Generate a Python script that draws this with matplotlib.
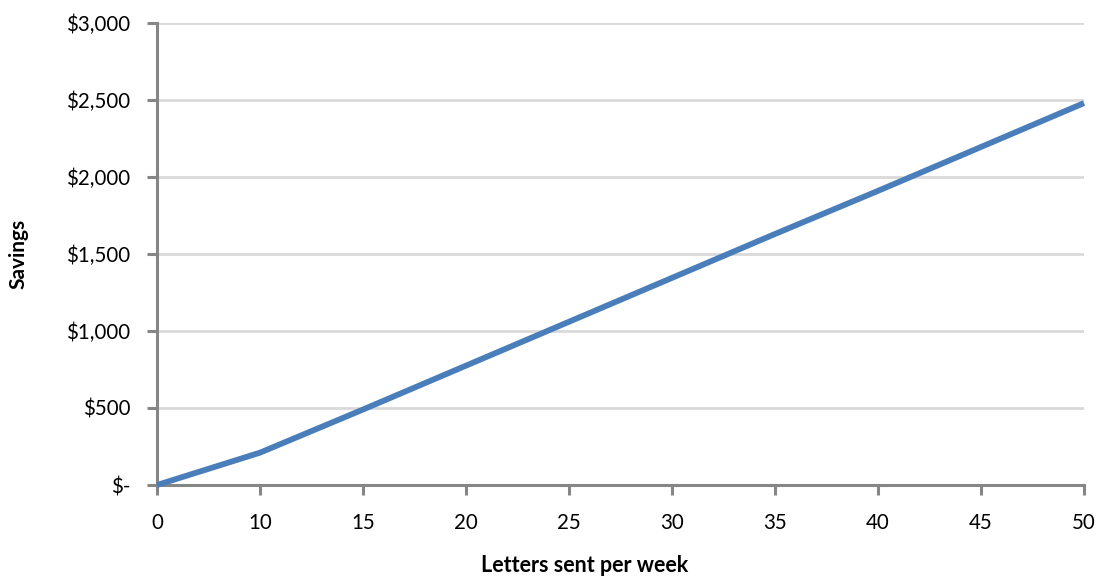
import matplotlib.pyplot as plt

letters = ["0", "10", "15", "20", "25", "30", "35", "40", "45", "50"]
savings = [0, 210, 490, 775, 1060, 1345, 1630, 1910, 2195, 2480]
y_ticks = [0, 500, 1000, 1500, 2000, 2500, 3000]
y_labels = ["$-", "$500", "$1,000", "$1,500", "$2,000", "$2,500", "$3,000"]

plt.rcParams['font.family'] = ['Lato', 'DejaVu Sans']

W, H = 1096, 577
fig = plt.figure(figsize=(W / 100, H / 100), dpi=100)
ax = fig.add_axes([157 / W, 1 - 485 / H, (1084 - 157) / W, (485 - 23) / H])

pos = list(range(len(letters)))
ax.plot(pos, savings, color='#4a7ebb', linewidth=4.2, solid_capstyle='butt', zorder=3, clip_on=False)

ax.set_xlim(0, len(letters) - 1)
ax.set_ylim(0, 3000)
ax.set_xticks(pos)
ax.set_xticklabels(letters)
ax.set_yticks(y_ticks)
ax.set_yticklabels(y_labels)

ax.grid(True, axis='y', color='#d9d9d9', linewidth=2)
ax.set_axisbelow(True)
for s in ['top', 'right']:
    ax.spines[s].set_visible(False)
for s in ['left', 'bottom']:
    ax.spines[s].set_color('#868686')
    ax.spines[s].set_linewidth(2.2)
ax.tick_params(axis='both', color='#868686', width=2.2, length=7, labelsize=14.8)
ax.tick_params(axis='y', pad=12)
ax.tick_params(axis='x', pad=13)

# axis titles placed where the reference has them
fig.text(18 / W, 1 - 254 / H, "Savings", rotation=90, ha='center', va='center',
         fontsize=15, fontweight='bold')
fig.text(585 / W, 1 - 565 / H, "Letters sent per week", ha='center', va='center',
         fontsize=15.5, fontweight='bold')

fig.savefig("out.png", dpi=100)
